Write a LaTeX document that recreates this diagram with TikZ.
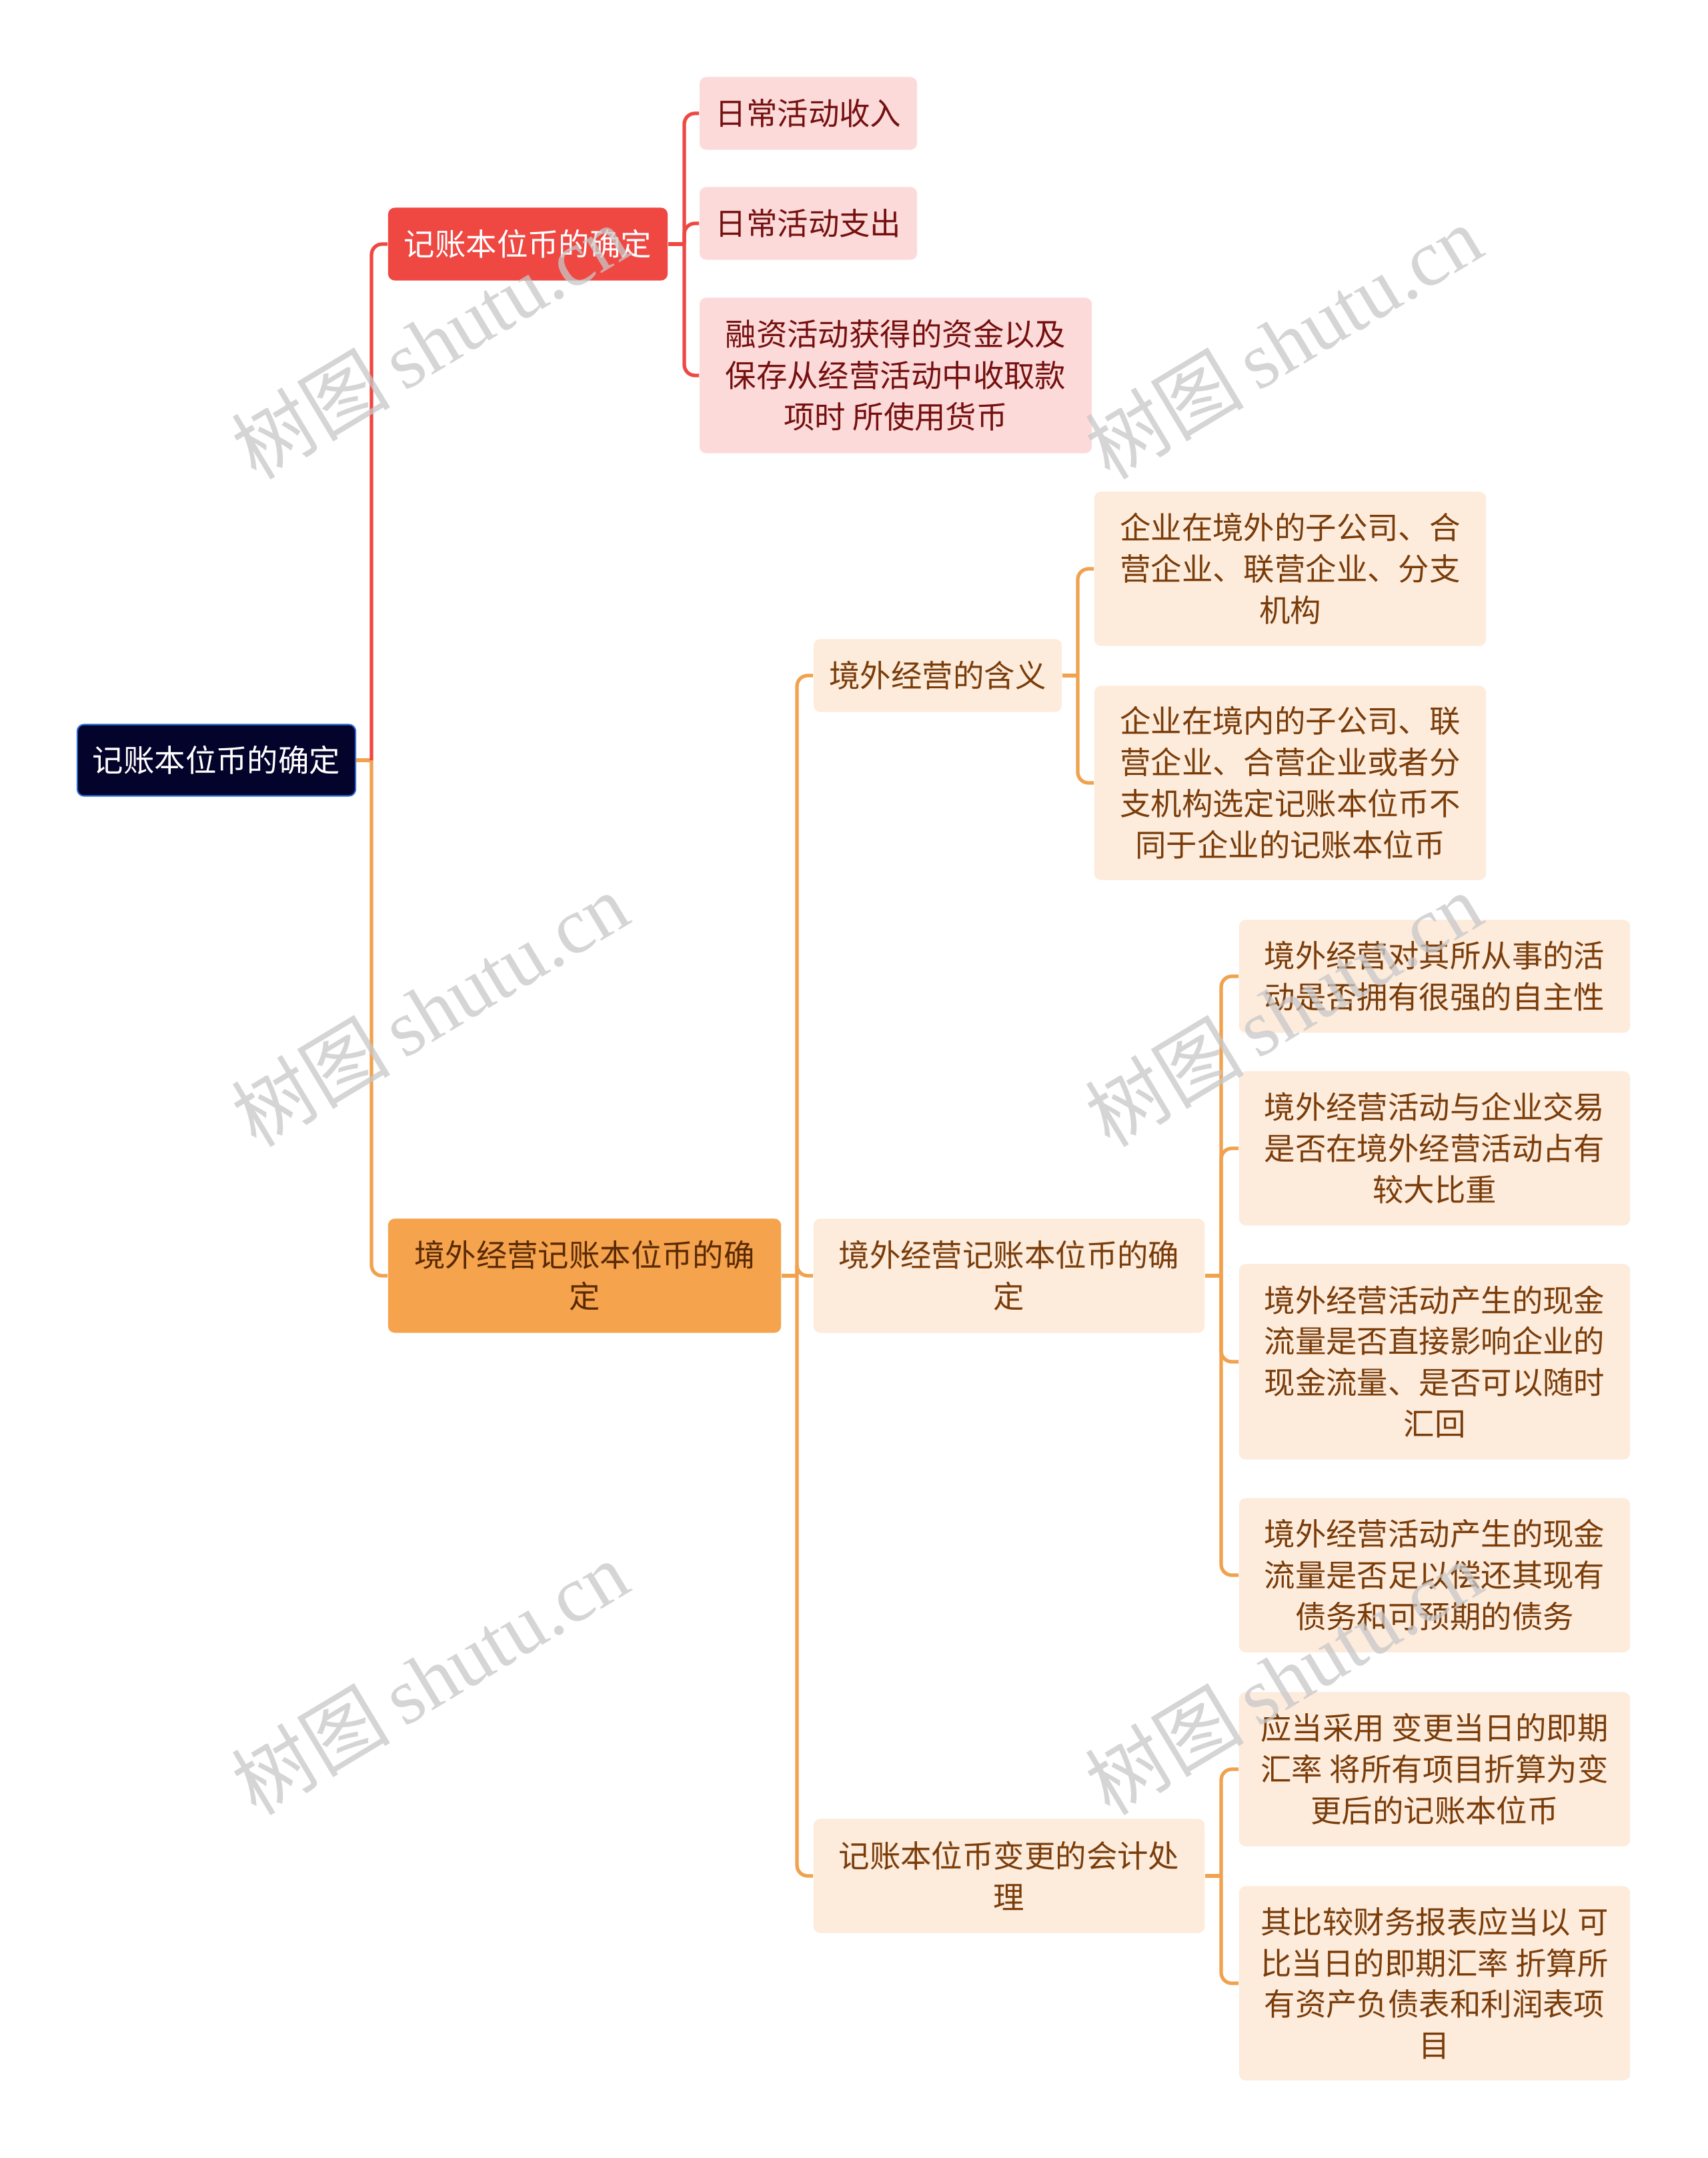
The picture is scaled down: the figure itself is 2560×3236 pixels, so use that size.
\documentclass[tikz,border=0pt]{standalone}
\usepackage{fontspec}
\setmainfont{Noto Sans CJK SC}
\newfontfamily\cjk{Noto Sans CJK SC}
\newfontfamily\wmlatin{Liberation Serif}
\definecolor{rootfill}{HTML}{03032B}
\definecolor{rootborder}{HTML}{2F6BD3}
\definecolor{redc}{HTML}{EF4742}
\definecolor{pinkfill}{HTML}{FDDADA}
\definecolor{redtext}{HTML}{74100F}
\definecolor{orangec}{HTML}{F0A24E}
\definecolor{orangefill}{HTML}{F5A34D}
\definecolor{lightfill}{HTML}{FDEBDC}
\definecolor{browntext}{HTML}{7A3D0A}
\definecolor{darkbrown}{HTML}{5A2A05}
\definecolor{wmgray}{HTML}{C8C8C8}
\begin{document}
\begin{tikzpicture}[x=0.01cm,y=-0.01cm,
  base/.style={rounded corners=0.1cm, align=center, inner sep=0pt,
    font=\cjk\fontsize{13.2pt}{17.6pt}\selectfont},
  rootbox/.style={base, fill=rootfill, draw=rootborder, line width=0.6pt, text=white},
  redbox/.style={base, fill=redc, text=white},
  orangebox/.style={base, fill=orangefill, text=darkbrown},
  pinkbox/.style={base, fill=pinkfill, text=redtext},
  lightbox/.style={base, fill=lightfill, text=browntext},
  redline/.style={draw=redc, line width=1.5pt},
  orangeline/.style={draw=orangec, line width=1.5pt},
  wm/.style={text=wmgray, opacity=0.75, rotate=31, font=\fontsize{34pt}{38pt}\selectfont}
]
\useasboundingbox (0,0) rectangle (2560,3236);
\fill[white] (0,0) rectangle (2560,3236);

% junction points
\coordinate (jr) at (557,1140);
\coordinate (ja) at (1026,366);
\coordinate (jb) at (1195,1913);
\coordinate (jb1) at (1616,1013);
\coordinate (jb2) at (1831,1913);
\coordinate (jb3) at (1831,2813);

% nodes
\node[rootbox, minimum width=4.17cm, minimum height=1.07cm] (root) at (324.5,1140) {记账本位币的确定};
\node[redbox, minimum width=4.19cm, minimum height=1.09cm] (A) at (791.5,366) {记账本位币的确定};
\node[orangebox, minimum width=5.89cm, minimum height=1.71cm] (B) at (876.5,1913) {境外经营记账本位币的确\\定};

\node[pinkbox, minimum width=3.26cm, minimum height=1.09cm] (a1) at (1212,170) {日常活动收入};
\node[pinkbox, minimum width=3.26cm, minimum height=1.09cm] (a2) at (1212,335) {日常活动支出};
\node[pinkbox, minimum width=5.88cm, minimum height=2.33cm] (a3) at (1343,563) {融资活动获得的资金以及\\保存从经营活动中收取款\\项时 所使用货币};

\node[lightbox, minimum width=3.72cm, minimum height=1.09cm] (b1) at (1406,1013) {境外经营的含义};
\node[lightbox, minimum width=5.86cm, minimum height=1.71cm] (b2) at (1513,1913) {境外经营记账本位币的确\\定};
\node[lightbox, minimum width=5.86cm, minimum height=1.71cm] (b3) at (1513,2813) {记账本位币变更的会计处\\理};

\node[lightbox, minimum width=5.87cm, minimum height=2.31cm] (c1) at (1934.5,853) {企业在境外的子公司、合\\营企业、联营企业、分支\\机构};
\node[lightbox, minimum width=5.87cm, minimum height=2.91cm] (c2) at (1934.5,1174) {企业在境内的子公司、联\\营企业、合营企业或者分\\支机构选定记账本位币不\\同于企业的记账本位币};

\node[lightbox, minimum width=5.86cm, minimum height=1.69cm] (d1) at (2151,1464) {境外经营对其所从事的活\\动是否拥有很强的自主性};
\node[lightbox, minimum width=5.86cm, minimum height=2.31cm] (d2) at (2151,1722) {境外经营活动与企业交易\\是否在境外经营活动占有\\较大比重};
\node[lightbox, minimum width=5.86cm, minimum height=2.93cm] (d3) at (2151,2042) {境外经营活动产生的现金\\流量是否直接影响企业的\\现金流量、是否可以随时\\汇回};
\node[lightbox, minimum width=5.86cm, minimum height=2.31cm] (d4) at (2151,2362) {境外经营活动产生的现金\\流量是否足以偿还其现有\\债务和可预期的债务};

\node[lightbox, minimum width=5.86cm, minimum height=2.31cm] (e1) at (2151,2653) {应当采用 变更当日的即期\\汇率 将所有项目折算为变\\更后的记账本位币};
\node[lightbox, minimum width=5.86cm, minimum height=2.91cm] (e2) at (2151,2974) {其比较财务报表应当以 可\\比当日的即期汇率 折算所\\有资产负债表和利润表项\\目};

% root connectors
\draw[orangeline] (root.east) -- (jr);
\draw[redline, rounded corners=0.16cm] (jr) |- (A.west);
\draw[orangeline, rounded corners=0.16cm] (jr) |- (B.west);
% A connectors
\draw[redline] (A.east) -- (ja);
\foreach \c in {a1,a2,a3} \draw[redline, rounded corners=0.16cm] (ja) |- (\c.west);
% B connectors
\draw[orangeline] (B.east) -- (jb);
\foreach \c in {b1,b2,b3} \draw[orangeline, rounded corners=0.16cm] (jb) |- (\c.west);
% b1
\draw[orangeline] (b1.east) -- (jb1);
\foreach \c in {c1,c2} \draw[orangeline, rounded corners=0.16cm] (jb1) |- (\c.west);
% b2
\draw[orangeline] (b2.east) -- (jb2);
\foreach \c in {d1,d2,d3,d4} \draw[orangeline, rounded corners=0.16cm] (jb2) |- (\c.west);
% b3
\draw[orangeline] (b3.east) -- (jb3);
\foreach \c in {e1,e2} \draw[orangeline, rounded corners=0.16cm] (jb3) |- (\c.west);

% watermarks
\foreach \p [count=\i] in {(644,512),(1924,512),(644,1513),(1924,1513),(644,2515),(1924,2515)}
  \node[wm] (wm\i) at \p {\cjk 树图\,\wmlatin shutu.cn};
\end{tikzpicture}
\end{document}
